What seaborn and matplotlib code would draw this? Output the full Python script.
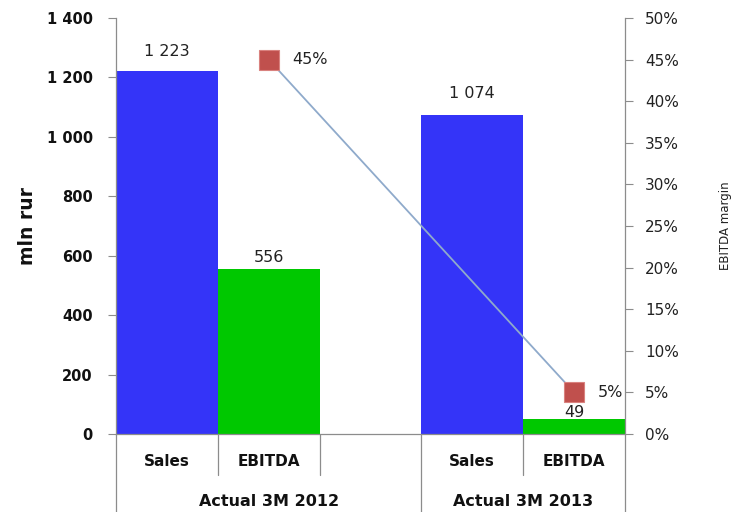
import matplotlib
matplotlib.use("Agg")
import matplotlib.pyplot as plt
import matplotlib.transforms as mtransforms
import seaborn as sns
import pandas as pd

# Figures in mln rur
periods = ["Actual 3M 2012", "Actual 3M 2012", "Actual 3M 2013", "Actual 3M 2013"]
metrics = ["Sales", "EBITDA", "Sales", "EBITDA"]
values = [1223, 556, 1074, 49]
value_labels = ["1 223", "556", "1 074", "49"]

margin_periods = ["Actual 3M 2012", "Actual 3M 2013"]
ebitda_margin = [0.45, 0.05]

left_ticks = [0, 200, 400, 600, 800, 1000, 1200, 1400]
left_tick_labels = ["0", "200", "400", "600", "800", "1 000", "1 200", "1 400"]
right_ticks = [0, 0.05, 0.10, 0.15, 0.20, 0.25, 0.30, 0.35, 0.40, 0.45, 0.50]

BLUE = "#3434F8"
GREEN = "#00C800"
RED = "#C0504D"
LINE = "#8FAACB"
GRID = "#8C8C8C"
TEXT = "#111111"

sns.set_theme(style="white")
plt.rcParams["font.family"] = ["DejaVu Sans"]

# slot layout: Sales, EBITDA, gap, Sales, EBITDA
slot_keys = [f"{m}|{p}" for p, m in zip(periods, metrics)]
order = slot_keys[:2] + ["gap"] + slot_keys[2:]
slot_pos = {k: i for i, k in enumerate(order)}

df = pd.DataFrame({"slot": slot_keys, "metric": metrics, "value": values})

fig = plt.figure(figsize=(7.35, 5.12), dpi=100)
ax = fig.add_axes([116 / 735, 1 - 434 / 512, (625 - 116) / 735, (434 - 18) / 512])

sns.barplot(data=df, x="slot", y="value", hue="metric", order=order,
            palette={"Sales": BLUE, "EBITDA": GREEN}, width=1.0, dodge=False,
            saturation=1, legend=False, ax=ax, linewidth=0)
ax.set_xlim(-0.5, len(order) - 0.5)
ax.set_ylim(0, 1400)
ax.set_yticks(left_ticks)
ax.set_yticklabels(left_tick_labels, fontweight="bold", fontsize=10.5)
ax.set_xticks([])
ax.set_xlabel("")
ax.set_ylabel("mln rur", fontweight="bold", fontsize=13.5, labelpad=7, color=TEXT)
ax.tick_params(axis="y", direction="out", length=5.8, width=0.8, color=GRID,
               left=True, pad=10.8, labelcolor=TEXT)
for side in ["top", "right"]:
    ax.spines[side].set_visible(False)
for side in ["left", "bottom"]:
    ax.spines[side].set_color(GRID)
    ax.spines[side].set_linewidth(0.9)

# value labels above bars
label_offsets_px = [15, 7, 17, 2]
for key, v, lab, off in zip(slot_keys, values, value_labels, label_offsets_px):
    tr = ax.transData + mtransforms.ScaledTranslation(0, off / 100, fig.dpi_scale_trans)
    ax.text(slot_pos[key], v, lab, transform=tr, ha="center", va="baseline",
            fontsize=11.5, color="#222222", zorder=3)

# EBITDA margin line on secondary axis
ax2 = ax.twinx()
margin_x = [slot_pos[f"EBITDA|{p}"] for p in margin_periods]
mdf = pd.DataFrame({"x": margin_x, "margin": ebitda_margin})
sns.lineplot(data=mdf, x="x", y="margin", ax=ax2, color=LINE, linewidth=1.3,
             marker="s", markersize=14.5, markerfacecolor=RED,
             markeredgecolor="#D9827F", markeredgewidth=0.8)
ax2.set_ylim(0, 0.5)
ax2.set_xlim(-0.5, len(order) - 0.5)
ax2.set_yticks(right_ticks)
ax2.set_yticklabels([f"{int(round(t * 100))}%" for t in right_ticks], fontsize=11,
                    color="#222222")
ax2.tick_params(axis="y", direction="out", length=5.8, width=0.8, color=GRID,
                right=True, pad=8.6)
ax2.set_ylabel("EBITDA margin", fontsize=8.5, labelpad=29, color="#222222")
ax2.set_xlabel("")
for side in ["top", "left", "bottom"]:
    ax2.spines[side].set_visible(False)
ax2.spines["right"].set_color(GRID)
ax2.spines["right"].set_linewidth(0.9)
for x, m in zip(margin_x, ebitda_margin):
    tr = ax2.transData + mtransforms.ScaledTranslation(24 / 100, 0, fig.dpi_scale_trans)
    ax2.text(x, m, f"{int(round(m * 100))}%", transform=tr, ha="left", va="center",
             fontsize=11.5, color="#222222")

# two-level category axis below the plot
blend = mtransforms.blended_transform_factory(ax.transData, ax.transAxes)
ax_h = 434 - 18
row1_y = -(462 - 434) / ax_h
row2_y = -(501 - 434) / ax_h
short_end = -(475 - 434) / ax_h
full_end = -(512 - 434) / ax_h - 0.01

for key in slot_keys:
    metric = key.split("|")[0]
    ax.text(slot_pos[key], row1_y, metric, transform=blend, ha="center", va="center",
            fontsize=11, fontweight="bold", color=TEXT, clip_on=False)

# the first period's group spans its two bars and the spacer slot
group_centers = [(slot_pos[slot_keys[0]] + slot_pos["gap"]) / 2,
                 (slot_pos[slot_keys[2]] + slot_pos[slot_keys[3]]) / 2]
for p, cx in zip(margin_periods, group_centers):
    ax.text(cx, row2_y, p, transform=blend, ha="center", va="center",
            fontsize=11.5, fontweight="bold", color=TEXT, clip_on=False)

full_bounds = [-0.5, 2.5, 4.5]
short_bounds = [0.5, 1.5, 3.5]
for xb in full_bounds:
    ax.plot([xb, xb], [0, full_end], transform=blend, color=GRID, lw=0.9,
            clip_on=False)
for xb in short_bounds:
    ax.plot([xb, xb], [0, short_end], transform=blend, color=GRID, lw=0.9,
            clip_on=False)

fig.savefig("out.png", dpi=100)
